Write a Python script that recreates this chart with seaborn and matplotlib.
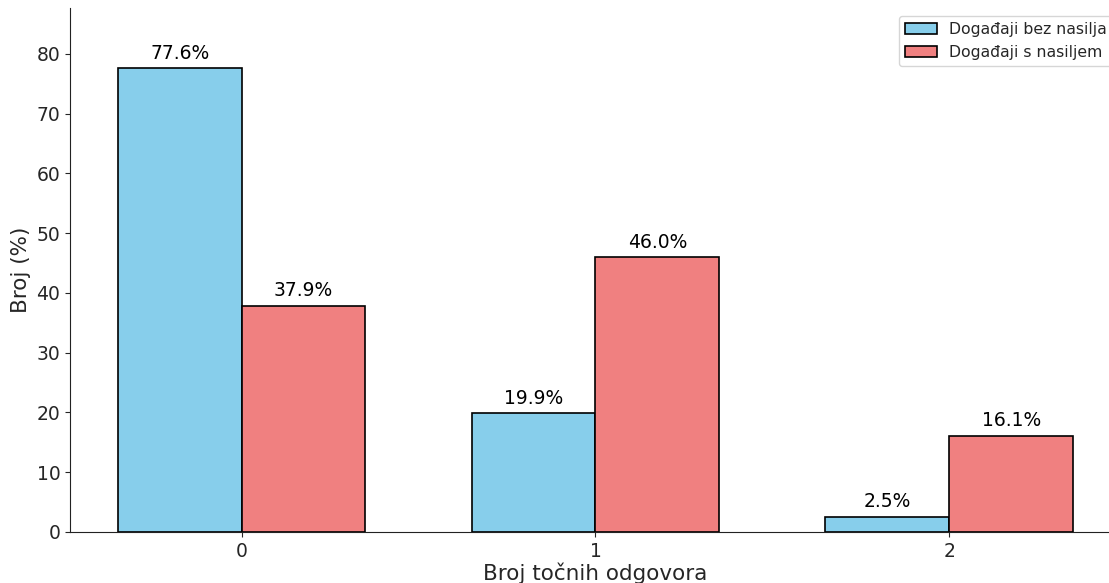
import numpy as np
import pandas as pd
import seaborn as sns
import matplotlib.pyplot as plt

sns.set_style("ticks")
plt.rcParams['font.family'] = ['DejaVu Sans']

categories = ["0", "1", "2"]
series_names = ["Događaji bez nasilja", "Događaji s nasiljem"]
bez_nasilja = [77.6, 19.9, 2.5]
s_nasiljem = [37.9, 46.0, 16.1]

df = pd.DataFrame({
    "odgovori": categories * 2,
    "postotak": bez_nasilja + s_nasiljem,
    "skupina": [series_names[0]] * 3 + [series_names[1]] * 3,
})

fig = plt.figure(figsize=(11.09, 5.83), dpi=100)
ax = fig.add_axes([0.0631, 0.0875, 0.9477, 0.8988])

sns.barplot(data=df, x="odgovori", y="postotak", hue="skupina",
            order=categories, hue_order=series_names,
            palette=["skyblue", "lightcoral"], saturation=1,
            width=0.7, gap=0, edgecolor="black", linewidth=1.2, ax=ax)

for cont, vals in zip(ax.containers, [bez_nasilja, s_nasiljem]):
    ax.bar_label(cont, labels=[f"{v:.1f}%" for v in vals], padding=4,
                 fontsize=13.5, color="black")

ax.set_xlim(-0.485, 2.485)
ax.set_ylim(0, max(bez_nasilja) + 10.1)
ax.set_yticks(np.arange(0, 81, 10))
ax.tick_params(labelsize=13.5)
ax.set_xlabel("Broj točnih odgovora", fontsize=15.5, labelpad=1)
ax.set_ylabel("Broj (%)", fontsize=15.5)
sns.despine(ax=ax)
for s in ["left", "bottom"]:
    ax.spines[s].set_color("#222222")

ax.legend(loc="upper right", fontsize=11.3, title=None)

fig.savefig("out.png", dpi=100)
